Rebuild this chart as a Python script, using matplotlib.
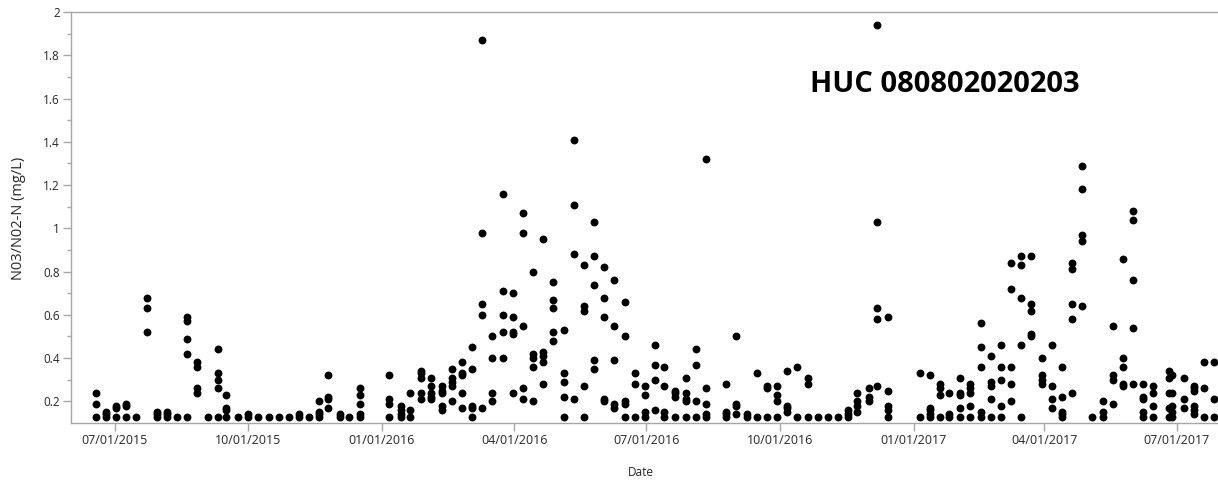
import matplotlib
matplotlib.use("Agg")
import matplotlib.pyplot as plt
import matplotlib.dates as mdates
from matplotlib.ticker import FixedLocator, FuncFormatter
import pandas as pd

plt.rcParams['font.family'] = ['Open Sans', 'DejaVu Sans']

# Sampling dates (columns of points)
sample_dates = [
    "2015-06-18", "2015-06-25", "2015-07-02", "2015-07-09", "2015-07-16", "2015-07-23",
    "2015-07-30", "2015-08-06", "2015-08-13", "2015-08-20", "2015-08-27", "2015-09-03",
    "2015-09-10", "2015-09-16", "2015-09-24", "2015-10-01", "2015-10-08", "2015-10-15",
    "2015-10-22", "2015-10-29", "2015-11-05", "2015-11-12", "2015-11-19", "2015-11-25",
    "2015-12-03", "2015-12-09", "2015-12-17",
    "2016-01-06", "2016-01-14", "2016-01-20", "2016-01-28", "2016-02-04", "2016-02-11",
    "2016-02-18", "2016-02-25", "2016-03-03", "2016-03-10", "2016-03-17", "2016-03-24",
    "2016-03-31", "2016-04-07", "2016-04-14", "2016-04-21", "2016-04-28", "2016-05-05",
    "2016-05-12", "2016-05-19", "2016-05-26", "2016-06-02", "2016-06-09", "2016-06-16",
    "2016-06-23", "2016-06-30", "2016-07-07", "2016-07-13", "2016-07-21", "2016-07-28",
    "2016-08-04", "2016-08-11", "2016-08-25", "2016-09-01", "2016-09-08", "2016-09-15",
    "2016-09-22", "2016-09-29", "2016-10-06", "2016-10-13", "2016-10-20", "2016-10-27",
    "2016-11-03", "2016-11-10", "2016-11-17", "2016-11-23", "2016-12-01", "2016-12-07",
    "2016-12-14",
    "2017-01-05", "2017-01-12", "2017-01-19", "2017-01-25", "2017-02-02", "2017-02-09",
    "2017-02-16", "2017-02-23", "2017-03-02", "2017-03-09", "2017-03-16", "2017-03-23",
    "2017-03-30", "2017-04-06", "2017-04-13", "2017-04-20", "2017-04-27", "2017-05-04",
    "2017-05-11", "2017-05-18", "2017-05-25", "2017-06-01", "2017-06-08", "2017-06-15",
    "2017-06-26", "2017-06-28", "2017-07-06", "2017-07-13", "2017-07-20", "2017-07-27",
]

# NO3/NO2-N readings (mg/L) for each sampling date
no3_values = [
    [0.24, 0.19, 0.13], [0.15, 0.14, 0.13], [0.18, 0.17, 0.13], [0.19, 0.18, 0.13],
    [0.13], [0.68, 0.63, 0.52], [0.15, 0.14, 0.13], [0.15, 0.14, 0.13], [0.13],
    [0.59, 0.57, 0.49, 0.42, 0.13], [0.38, 0.36, 0.26, 0.24], [0.13],
    [0.44, 0.33, 0.30, 0.26, 0.13], [0.23, 0.17, 0.16, 0.13], [0.13], [0.14, 0.13],
    [0.13], [0.13], [0.13], [0.13], [0.14, 0.13], [0.13], [0.20, 0.15, 0.14, 0.13],
    [0.32, 0.22, 0.21, 0.17], [0.14, 0.13], [0.13], [0.26, 0.23, 0.19, 0.14, 0.13],
    # 2016
    [0.32, 0.21, 0.19, 0.13], [0.18, 0.16, 0.14, 0.13], [0.24, 0.16, 0.13],
    [0.34, 0.33, 0.31, 0.24, 0.21], [0.31, 0.27, 0.24, 0.22, 0.21],
    [0.27, 0.25, 0.24, 0.18, 0.16], [0.35, 0.31, 0.29, 0.27, 0.20],
    [0.38, 0.33, 0.32, 0.24, 0.17], [0.45, 0.35, 0.18, 0.17, 0.13],
    [1.87, 0.98, 0.65, 0.60, 0.17], [0.50, 0.40, 0.24, 0.20],
    [1.16, 0.71, 0.60, 0.52, 0.40], [0.70, 0.59, 0.52, 0.51, 0.24],
    [1.07, 0.98, 0.55, 0.26, 0.21], [0.80, 0.42, 0.40, 0.36, 0.20],
    [0.95, 0.43, 0.41, 0.38, 0.28], [0.75, 0.67, 0.63, 0.52, 0.48],
    [0.53, 0.33, 0.29, 0.22, 0.13], [1.41, 1.11, 0.88, 0.21],
    [0.83, 0.64, 0.62, 0.27, 0.13], [1.03, 0.87, 0.74, 0.39, 0.35],
    [0.82, 0.68, 0.59, 0.21, 0.20], [0.76, 0.55, 0.39, 0.19, 0.17],
    [0.66, 0.50, 0.20, 0.19, 0.13], [0.33, 0.28, 0.13], [0.27, 0.23, 0.15, 0.13],
    [0.46, 0.37, 0.30, 0.16], [0.36, 0.27, 0.15, 0.13], [0.25, 0.24, 0.22, 0.13],
    [0.31, 0.24, 0.21, 0.20, 0.13], [0.44, 0.37, 0.20, 0.13],
    [1.32, 0.26, 0.19, 0.14, 0.13], [0.28, 0.15, 0.14, 0.13], [0.50, 0.19, 0.18, 0.14],
    [0.14, 0.13], [0.33, 0.13], [0.27, 0.26, 0.13], [0.27, 0.23, 0.20, 0.13],
    [0.34, 0.18, 0.17, 0.15], [0.36, 0.13], [0.31, 0.28, 0.13], [0.13], [0.13], [0.13],
    [0.16, 0.14, 0.13], [0.24, 0.20, 0.18, 0.15], [0.26, 0.22, 0.20],
    [1.94, 1.03, 0.63, 0.58, 0.27], [0.59, 0.25, 0.18, 0.16, 0.13],
    # 2017
    [0.33, 0.13], [0.32, 0.17, 0.16, 0.14, 0.13], [0.28, 0.26, 0.23, 0.13],
    [0.24, 0.14, 0.13], [0.31, 0.24, 0.23, 0.17, 0.13], [0.28, 0.26, 0.24, 0.18, 0.13],
    [0.56, 0.45, 0.36, 0.15, 0.13], [0.41, 0.29, 0.27, 0.21, 0.13],
    [0.46, 0.36, 0.30, 0.18, 0.13], [0.84, 0.72, 0.36, 0.28, 0.20],
    [0.87, 0.83, 0.68, 0.46, 0.13], [0.87, 0.65, 0.62, 0.51, 0.50],
    [0.40, 0.32, 0.30, 0.28], [0.46, 0.27, 0.21, 0.17], [0.36, 0.22, 0.15, 0.14, 0.13],
    [0.84, 0.81, 0.65, 0.58, 0.24], [1.29, 1.18, 0.97, 0.94, 0.64], [0.13],
    [0.20, 0.15, 0.13], [0.55, 0.32, 0.30, 0.19], [0.86, 0.40, 0.36, 0.28, 0.27],
    [1.08, 1.04, 0.76, 0.54, 0.28], [0.28, 0.22, 0.21, 0.15, 0.13],
    [0.27, 0.24, 0.18, 0.13], [0.34, 0.31, 0.24, 0.17, 0.13],
    [0.32, 0.24, 0.18, 0.15, 0.13], [0.31, 0.21, 0.17],
    [0.27, 0.26, 0.25, 0.18, 0.16, 0.14], [0.38, 0.26, 0.13], [0.38, 0.21, 0.13],
]

x_tick_dates = ["2015-07-01", "2015-10-01", "2016-01-01", "2016-04-01",
                "2016-07-01", "2016-10-01", "2017-01-01", "2017-04-01", "2017-07-01"]
x_tick_labels = ["07/01/2015", "10/01/2015", "01/01/2016", "04/01/2016",
                 "07/01/2016", "10/01/2016", "01/01/2017", "04/01/2017", "07/01/2017"]
y_ticks = [0.2, 0.4, 0.6, 0.8, 1.0, 1.2, 1.4, 1.6, 1.8, 2.0]
y_minor_ticks = [0.3, 0.5, 0.7, 0.9, 1.1, 1.3, 1.5, 1.7, 1.9]

title_text = "HUC 080802020203"
x_label = "Date"
y_label = "N03/N02-N (mg/L)"

# Build long-form table
rows = []
for d, vals in zip(sample_dates, no3_values):
    for v in vals:
        rows.append((pd.Timestamp(d), v))
df = pd.DataFrame(rows, columns=["date", "value"])

W, H = 1218, 482
fig = plt.figure(figsize=(W / 100, H / 100), dpi=100)
ax = fig.add_axes([71 / W, 1 - 423 / H, (W - 71) / W, (423 - 12) / H])

ax.scatter(mdates.date2num(df["date"]), df["value"], s=32, color="black",
           linewidths=0, zorder=3)

ax.set_xlim(mdates.date2num(pd.Timestamp("2015-06-01")),
            mdates.date2num(pd.Timestamp("2017-07-29 10:00")))
ax.set_ylim(0.1, 2.0)

grey = "#a6a6a6"
for side in ["left", "bottom", "top"]:
    ax.spines[side].set_color(grey)
    ax.spines[side].set_linewidth(1.0)
ax.spines["right"].set_visible(False)

ax.xaxis.set_major_locator(FixedLocator(mdates.date2num(pd.to_datetime(x_tick_dates))))
ax.set_xticklabels(x_tick_labels)
ax.yaxis.set_major_locator(FixedLocator(y_ticks))
ax.yaxis.set_major_formatter(FuncFormatter(lambda v, p: f"{v:g}"))
ax.yaxis.set_minor_locator(FixedLocator(y_minor_ticks))

ax.tick_params(axis="x", which="major", length=6, width=1, color=grey,
               labelsize=9, labelcolor="#262626", pad=2)
ax.tick_params(axis="y", which="major", length=6, width=1, color=grey,
               labelsize=8.5, labelcolor="#262626", pad=2)
ax.tick_params(axis="y", which="minor", length=3, width=1, color=grey)

fig.text(19 / W, 1 - 218 / H, y_label, rotation=90, ha="center", va="center",
         fontsize=10.5, color="#262626")
fig.text(641 / W, 1 - 473 / H, x_label, ha="center", va="center",
         fontsize=8.5, color="#262626")
fig.text(810 / W, 1 - 84 / H, title_text, ha="left", va="center",
         fontsize=21, fontweight="bold", color="black")

fig.savefig("out.png", dpi=100)
